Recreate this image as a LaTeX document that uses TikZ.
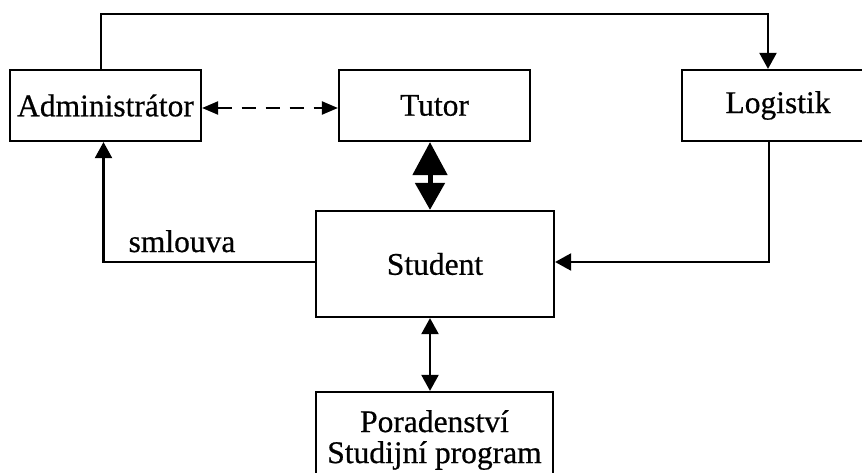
\documentclass[tikz,border=0pt]{standalone}
\usepackage{fontspec}
\setmainfont{Liberation Serif}[FakeBold=0.6]
\usetikzlibrary{arrows.meta}
\tikzset{
  box/.style={draw, line width=2.2pt, inner sep=0pt, align=center,
    font=\fontsize{31.5}{31}\selectfont},
  link/.style={line width=2.2pt, -{Triangle[length=16pt,width=17pt]}},
  twoway/.style={line width=2.2pt, {Triangle[length=16pt,width=17pt]}-{Triangle[length=16pt,width=17pt]}},
  dashlink/.style={line width=2.2pt, dash pattern=on 14pt off 10pt,
    {Triangle[length=16pt,width=13pt]}-{Triangle[length=16pt,width=13pt]}},
  heavy/.style={line width=5pt, {Triangle[length=33pt,width=34pt]}-{Triangle[length=27pt,width=29pt]}},
  lbl/.style={font=\fontsize{31.5}{31}\selectfont, inner sep=0pt}
}
\begin{document}
\begin{tikzpicture}[x=1pt, y=-1pt]
  \useasboundingbox (0,0) rectangle (862,473);

  % roles
  \node[box, minimum width=191pt, minimum height=71pt] (adm) at (105.5,105.5) {Administrátor};
  \node[box, minimum width=191pt, minimum height=71pt] (tut) at (434.5,105.5) {Tutor};
  \node[box, minimum width=192pt, minimum height=71pt] (log) at (778,105.5) {Logistik};
  \node[box, minimum width=238pt, minimum height=106pt] (stu) at (435,264) {Student};
  \node[box, minimum width=237pt, minimum height=96pt] (por) at (434.5,440)
    {Poradenství\\Studijní program};

  % Administrátor -> Logistik over the top
  \draw[link] ([xshift=-4.5pt]adm.north) -- ++(0,-55) -| ([xshift=-10pt]log.north);

  % Administrátor <-> Tutor
  \draw[dashlink] ([yshift=-2.5pt]adm.east) -- ([yshift=-2.5pt]tut.west);

  % Tutor <-> Student
  \draw[heavy] ([xshift=-4.5pt]tut.south) -- ([xshift=-5pt]stu.north);

  % Student -> Administrátor (smlouva)
  \draw[link] ([yshift=2pt]stu.west) -| ([xshift=-2pt]adm.south);
  \node[lbl, anchor=base] (smlouva) at (182,252) {smlouva};

  % Logistik -> Student
  \draw[link] ([xshift=-9pt]log.south) |- ([yshift=2pt]stu.east);

  % Student <-> Poradenství
  \draw[twoway] ([xshift=-5pt]stu.south) -- ([xshift=-4.5pt]por.north);
\end{tikzpicture}
\end{document}
